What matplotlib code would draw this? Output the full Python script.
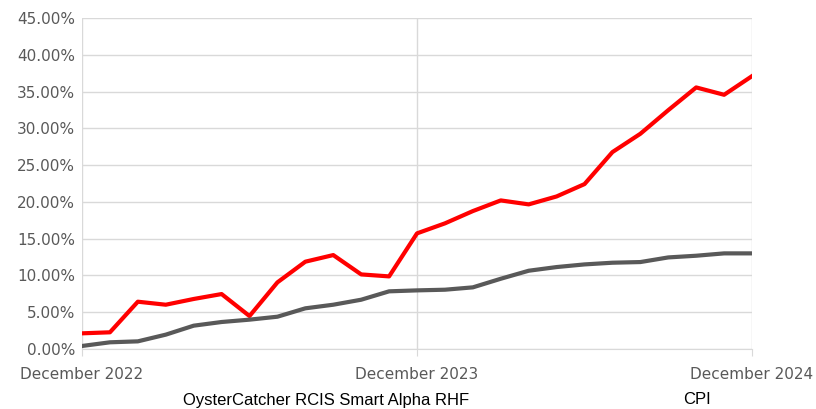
import matplotlib.pyplot as plt
from matplotlib.ticker import FuncFormatter

# monthly points, December 2022 .. December 2024
months = list(range(25))
fund = [2.13, 2.27, 6.43, 6.02, 6.80, 7.47, 4.48, 9.06, 11.87, 12.77, 10.14, 9.87, 15.72,
        17.08, 18.75, 20.20, 19.66, 20.74, 22.42, 26.77, 29.26, 32.47, 35.56, 34.56, 37.10]
cpi = [0.41, 0.91, 1.04, 1.95, 3.17, 3.67, 3.99, 4.39, 5.53, 6.02, 6.70, 7.84, 7.97,
       8.06, 8.38, 9.55, 10.64, 11.14, 11.50, 11.73, 11.82, 12.45, 12.68, 13.00, 13.00]
tick_pos = [0, 12, 24]
tick_labels = ['December 2022', 'December 2023', 'December 2024']
names = ['OysterCatcher RCIS Smart Alpha RHF', 'CPI']

fig = plt.figure(figsize=(8.16, 4.09), dpi=100)
ax = fig.add_axes([0.1005, 0.1467, 0.8211, 0.8093])

ax.plot(months, fund, color='#FF0000', lw=3, solid_joinstyle='round', zorder=3)
ax.plot(months, cpi, color='#595959', lw=3, solid_joinstyle='round', zorder=3)

ax.set_xlim(0, 24)
ax.set_ylim(0, 45)
ax.set_yticks([i * 5 for i in range(10)])
ax.yaxis.set_major_formatter(FuncFormatter(lambda v, p: f'{v:.2f}%'))
ax.set_xticks(tick_pos)
ax.set_xticklabels(tick_labels)

ax.grid(True, color='#D9D9D9', lw=1)
ax.set_axisbelow(True)
for s in ax.spines.values():
    s.set_color('#D9D9D9')
ax.spines['left'].set_visible(False)
ax.spines['top'].set_visible(False)
ax.spines['right'].set_visible(False)

ax.tick_params(axis='y', length=0, pad=5, labelsize=11, labelcolor='#595959')
ax.tick_params(axis='x', length=5, color='#D9D9D9', pad=8, labelsize=11, labelcolor='#595959')

fig.text(326 / 816, 1 - 401 / 409, names[0], ha='center', va='center', fontsize=12,
         family='Liberation Sans')
fig.text(683 / 816, 1 - 399 / 409, names[1], ha='left', va='center', fontsize=12,
         family='Liberation Sans')

fig.savefig('out.png', dpi=100)
